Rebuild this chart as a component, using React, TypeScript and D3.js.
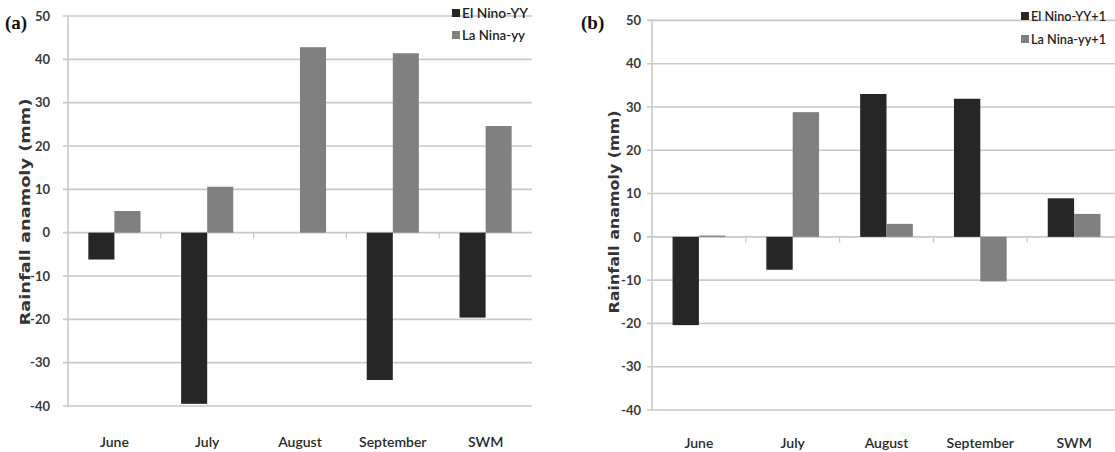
import React from 'react';
import * as d3 from 'd3';

const categories = ['June', 'July', 'August', 'September', 'SWM'];
const elNinoYY = [-6.2, -39.5, 0, -34.0, -19.6];
const laNinaYY = [5.0, 10.6, 42.8, 41.4, 24.6];
const elNinoYY1 = [-20.4, -7.6, 33.0, 31.9, 8.9];
const laNinaYY1 = [0.3, 28.8, 3.0, -10.3, 5.3];
const yTicks = [-40, -30, -20, -10, 0, 10, 20, 30, 40, 50];
const seriesNamesA = ['El Nino-YY', 'La Nina-yy'];
const seriesNamesB = ['El Nino-YY+1', 'La Nina-yy+1'];
const yAxisTitle = 'Rainfall anamoly (mm)';

const COLORS = ['#262626', '#808080'];
const GRID = '#c9c9c9';
const NARROW = "Lato, 'Open Sans', sans-serif";

type PanelProps = {
  letter: string;
  letterX: number;
  x0: number;
  x1: number;
  yTop: number;
  yBottom: number;
  gridRight: number;
  tickRight: number;
  titleX: number;
  titleLen: number;
  labelY: number;
  series: number[][];
  names: string[];
  legendX: number;
  legendY: number[];
  legendLens: number[];
};

function Panel(p: PanelProps) {
  const x = d3.scaleBand<string>().domain(categories).range([p.x0, p.x1]).padding(0);
  const sub = d3
    .scaleBand<number>()
    .domain(p.series.map((_, i) => i))
    .range([0, x.step()])
    .paddingInner(0)
    .paddingOuter(0.78);
  const y = d3.scaleLinear().domain([-40, 50]).range([p.yBottom, p.yTop]);
  const y0 = y(0);
  return (
    <g>
      {yTicks.map((t) => (
        <g key={t}>
          <line x1={p.x0 - 5} x2={p.gridRight} y1={y(t)} y2={y(t)} stroke={GRID} strokeWidth={1.6} />
          <text
            x={p.tickRight}
            y={y(t)}
            dy="0.36em"
            textAnchor="end"
            fontFamily={NARROW}
            fontSize={13}
            fontWeight={700}
            fill="#3a3a3a"
          >
            {t}
          </text>
        </g>
      ))}
      <line x1={p.x0} x2={p.x0} y1={p.yTop} y2={p.yBottom} stroke={GRID} strokeWidth={1.6} />
      {categories.map((c, i) =>
        i === 0 ? null : (
          <line key={'t' + c} x1={x(c)!} x2={x(c)!} y1={y0} y2={y0 + 6} stroke={GRID} strokeWidth={1.2} />
        )
      )}
      {p.series.map((vals, si) =>
        vals.map((v, ci) => {
          const bx = (x(categories[ci]) as number) + (sub(si) as number);
          return (
            <rect
              key={si + '-' + ci}
              x={bx}
              width={sub.bandwidth()}
              y={Math.min(y(v), y0)}
              height={Math.abs(y(v) - y0)}
              fill={COLORS[si]}
            />
          );
        })
      )}
      {categories.map((c) => (
        <text
          key={'l' + c}
          x={(x(c) as number) + x.bandwidth() / 2}
          y={p.labelY}
          textAnchor="middle"
          fontFamily={NARROW}
          fontSize={14}
          fontWeight={600}
          fill="#2a2a2a"
        >
          {c}
        </text>
      ))}
      <text
        transform={`translate(${p.titleX},212) rotate(-90)`}
        textAnchor="middle"
        dy="0.35em"
        fontFamily="'DejaVu Sans', Verdana, sans-serif"
        fontWeight={700}
        fontSize={14}
        fill="#333"
        textLength={p.titleLen}
        lengthAdjust="spacingAndGlyphs"
      >
        {yAxisTitle}
      </text>
      <text
        x={p.letterX}
        y={29}
        fontFamily="'Liberation Serif', 'Times New Roman', serif"
        fontWeight={700}
        fontSize={19}
        fill="#111"
      >
        {p.letter}
      </text>
      {p.names.map((n, i) => (
        <g key={n}>
          <rect x={p.legendX} y={p.legendY[i] - 9} width={8} height={8} fill={COLORS[i]} />
          <text
            x={p.legendX + 10}
            y={p.legendY[i]}
            fontFamily={NARROW}
            fontSize={14}
            fontWeight={600}
            fill="#222"
            textLength={p.legendLens[i]}
            lengthAdjust="spacingAndGlyphs"
          >
            {n}
          </text>
        </g>
      ))}
    </g>
  );
}

export default function App() {
  return (
    <svg
      width={1115}
      height={452}
      style={{ position: 'absolute', left: 0, top: 0, background: '#fff' }}
    >
      <rect x={0} y={0} width={1115} height={452} fill="#fff" />
      <Panel
        letter="(a)"
        letterX={5}
        x0={68}
        x1={532}
        yTop={16}
        yBottom={406}
        gridRight={532}
        tickRight={50}
        titleX={25}
        titleLen={227}
        labelY={447}
        series={[elNinoYY, laNinaYY]}
        names={seriesNamesA}
        legendX={452}
        legendY={[18, 40]}
        legendLens={[66, 63]}
      />
      <Panel
        letter="(b)"
        letterX={581}
        x0={652}
        x1={1121}
        yTop={20.4}
        yBottom={410}
        gridRight={1115}
        tickRight={641}
        titleX={614}
        titleLen={203}
        labelY={448}
        series={[elNinoYY1, laNinaYY1]}
        names={seriesNamesB}
        legendX={1021}
        legendY={[21, 44]}
        legendLens={[75, 75]}
      />
    </svg>
  );
}
